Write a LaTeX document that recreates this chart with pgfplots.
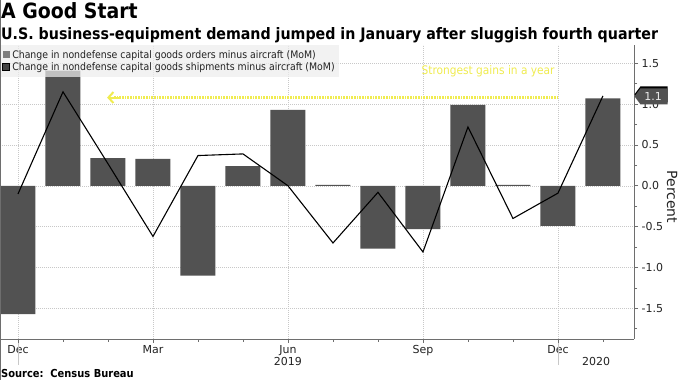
\documentclass[border=0pt]{standalone}
\usepackage{pgfplots}
\pgfplotsset{compat=1.18}
\usepackage{fontspec}
\setmainfont{DejaVu Sans}
\newfontfamily\condfont{DejaVu Sans Condensed}
\usetikzlibrary{arrows.meta}
\definecolor{barc}{HTML}{525252}
\definecolor{gridc}{HTML}{C8C8C8}
\definecolor{axc}{HTML}{6E6E6E}
\definecolor{yel}{HTML}{F0EC50}
\definecolor{txt}{HTML}{222222}
\begin{document}
\begin{tikzpicture}[x=1pt,y=1pt]
\useasboundingbox (0,0) rectangle (680,380);
\fill[white] (0,0) rectangle (680,380);
\begin{axis}[
  at={(0pt,41pt)}, anchor=south west,
  scale only axis, width=634pt, height=294pt,
  xmin=-0.4, xmax=13.69, ymin=-1.875, ymax=1.723,
  axis x line*=bottom, axis y line*=right,
  axis line style={axc, line width=0.8pt},
  xtick={0,3,6,9,12}, xticklabels={Dec,Mar,Jun,Sep,Dec},
  minor xtick={1,2,4,5,7,8,10,11,13},
  ytick={-1.5,-1,-0.5,0,0.5,1,1.5},
  minor ytick={-1.75,-1.25,-0.75,-0.25,0.25,0.75,1.25},
  yticklabel style={/pgf/number format/.cd, fixed, fixed zerofill, precision=1, assume math mode=true},
  tick align=outside, major tick length=4pt, minor tick length=3pt,
  tick style={axc, line width=0.6pt},
  xmajorgrids, ymajorgrids,
  grid style={gridc, dash pattern=on 1pt off 1pt, line width=0.5pt},
  tick label style={font=\fontsize{11}{11}\selectfont, text=txt},
  xticklabel style={yshift=1pt},
  clip=false,
  legend style={at={(0,1)}, anchor=north west, draw=none,
    fill=gray!14, fill opacity=0.72, text opacity=1,
    font=\condfont\fontsize{10.4}{11}\selectfont, text=txt,
    inner xsep=2pt, inner ysep=3pt, row sep=-1pt,
    legend cell align=left},
]
\addplot[ybar, bar width=35pt, fill=barc, draw=none,
  legend image code/.code={\fill[barc] (0pt,-3.5pt) rectangle (7pt,3.5pt);}]
  coordinates {(0,-1.57) (1,1.41) (2,0.34) (3,0.33) (4,-1.10) (5,0.24) (6,0.93)
   (7,0.012) (8,-0.77) (9,-0.53) (10,0.99) (11,0.012) (12,-0.49) (13,1.07)};
\addlegendentry{Change in nondefense capital goods orders minus aircraft (MoM)}
\addplot[black, line width=1.1pt, mark=none,
  legend image code/.code={\fill[black] (0pt,-3.5pt) rectangle (7pt,3.5pt);}]
  coordinates {(0,-0.10) (1,1.15) (2,0.27) (3,-0.62) (4,0.37) (5,0.39) (6,0.0)
   (7,-0.70) (8,-0.08) (9,-0.81) (10,0.72) (11,-0.40) (12,-0.09) (13,1.10)};
\addlegendentry{Change in nondefense capital goods shipments minus aircraft (MoM)}
\coordinate (arrR) at (axis cs:12,1.08);
\coordinate (arrL) at (axis cs:1.98,1.08);
\coordinate (txtR) at (axis cs:11.93,1.40);
\coordinate (tag) at (axis cs:13.69,1.10);
\coordinate (sepA) at (axis cs:0,-1.875);
\coordinate (sepB) at (axis cs:12,-1.875);
\coordinate (yrA) at (axis cs:6,-1.875);
\coordinate (yrB) at (axis cs:12.85,-1.875);
\end{axis}
% annotation arrow
\draw[yel, line width=2.4pt, dash pattern=on 1pt off 0.6pt] (arrR) -- ([xshift=7pt]arrL);
\draw[yel, line width=2pt, {Straight Barb[length=5pt,width=11pt]}-] (arrL) -- ++(14,0);
\node[anchor=east, text=yel, font=\condfont\fontsize{11.8}{12}\selectfont, inner sep=0pt] at (txtR) {Strongest gains in a year};
% value tags
\fill[black] ([xshift=0.5pt,yshift=1.5pt]tag) -- ++(6,8) -- ++(27,0) -- ++(0,-16) -- ++(-27,0) -- cycle;
\fill[barc] ([xshift=0.5pt,yshift=-0.5pt]tag) -- ++(6,8) -- ++(27,0) -- ++(0,-16) -- ++(-27,0) -- cycle;
\node[text=white!92!black, font=\fontsize{11}{11}\selectfont, anchor=center] at ([xshift=19pt,yshift=-0.5pt]tag) {1.1};
% year separators and labels
\draw[gridc, line width=0.8pt] ([yshift=-4pt]sepA) -- ++(0,-22);
\draw[gridc, line width=0.8pt] ([yshift=-4pt]sepB) -- ++(0,-22);
\node[font=\fontsize{11}{11}\selectfont, text=txt] at ([yshift=-22pt]yrA) {2019};
\node[font=\fontsize{11}{11}\selectfont, text=txt] at ([yshift=-22pt]yrB) {2020};
\draw[axc, line width=1pt] (0.5,0) -- (0.5,380);
\node[anchor=base west, inner sep=0pt, font=\condfont\bfseries\fontsize{21}{21}\selectfont, text=black] at (1,361) {A Good Start};
\node[anchor=base west, inner sep=0pt, font=\condfont\bfseries\fontsize{15.8}{15.8}\selectfont, text=black] at (1,340) {U.S. business-equipment demand jumped in January after sluggish fourth quarter};
\node[anchor=base west, inner sep=0pt, font=\condfont\bfseries\fontsize{11}{11}\selectfont, text=black] at (1,2) {Source:\ \ Census Bureau};
\node[rotate=-90, font=\fontsize{14}{14}\selectfont, text=txt] at (672,183) {Percent};
\end{tikzpicture}
\end{document}
